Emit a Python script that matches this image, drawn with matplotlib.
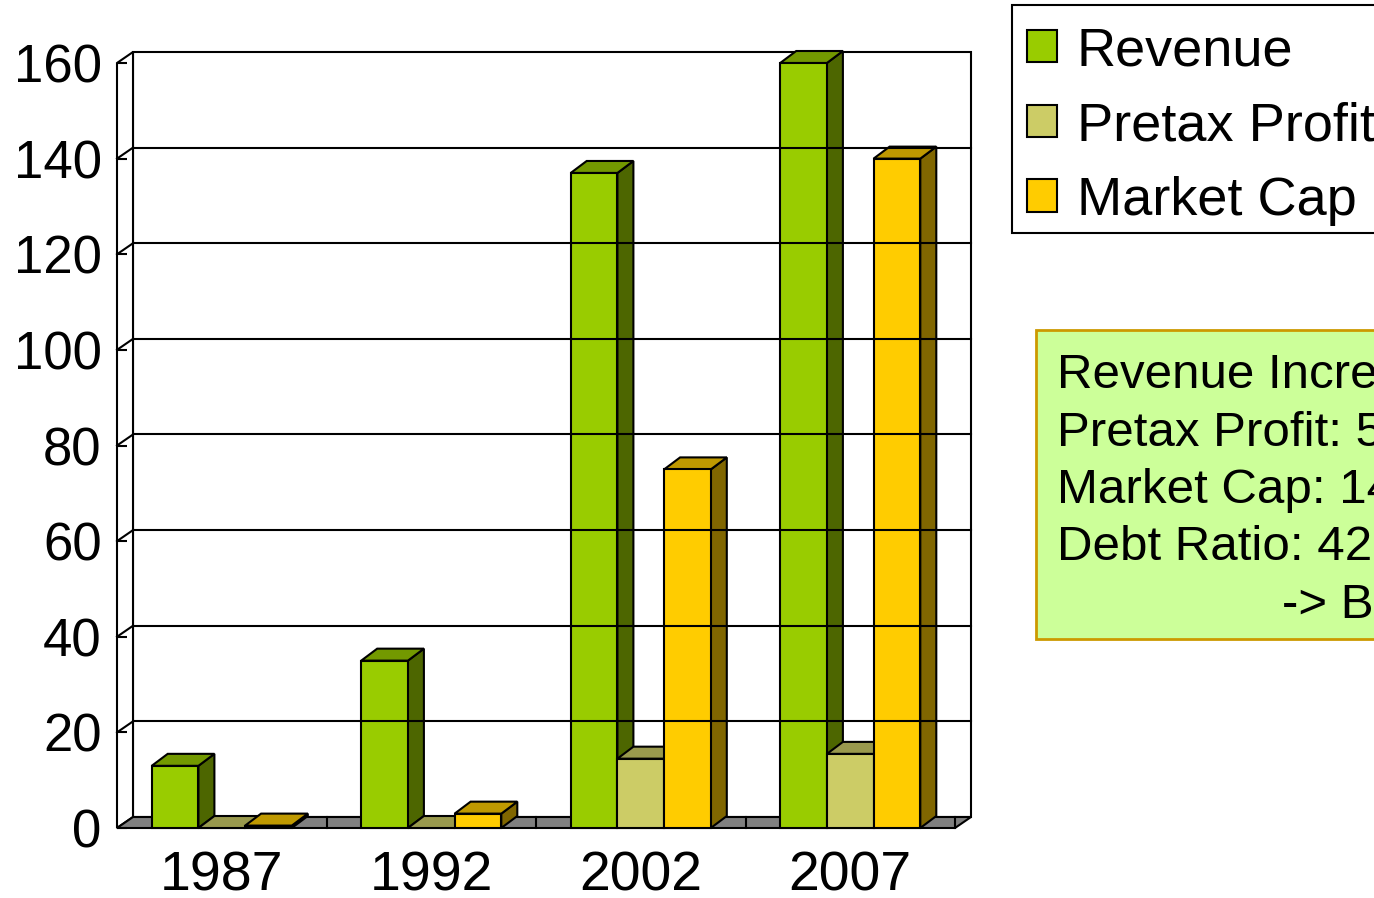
import matplotlib
matplotlib.use('Agg')
import matplotlib.pyplot as plt
from matplotlib.patches import Polygon, Rectangle, Patch

plt.rcParams['font.family'] = ['Liberation Sans', 'DejaVu Sans']

years = ['1987', '1992', '2002', '2007']
revenue = [13, 35, 137, 160]
pretax_profit = [0, 0, 14.5, 15.5]
market_cap = [0.5, 3, 75, 140]
series_names = ['Revenue', 'Pretax Profit', 'Market Cap']
yticks = list(range(0, 161, 20))

note_lines = ['Revenue Increase: 12x', 'Pretax Profit: 53x',
              'Market Cap: 140x', 'Debt Ratio: 422%']
note_last = '-> Boom'

# front / top / side colour of each series
colors = [('#99CC00', '#739900', '#4D6600'),
          ('#CCCC66', '#99994D', '#666633'),
          ('#FFCC00', '#BF9900', '#806600')]

W, H = 1374, 898
fig = plt.figure(figsize=(W / 100, H / 100), dpi=100)

# front plane of the 3d box in pixels, depth offset of the walls / bars
x0_px, x1_px = 117, 955
y0_px, ytop_px = 828, 63
ymax = 160
depth_x, depth_y_wall, depth_y_bar = 16, 11, 12
xs = (x1_px - x0_px) / len(years)
ys = (y0_px - ytop_px) / ymax
dxw, dyw = depth_x / xs, depth_y_wall / ys
dxb, dyb = depth_x / xs, depth_y_bar / ys
bw = 46.7 / xs

ax = fig.add_axes([x0_px / W, 1 - y0_px / H,
                   (x1_px + depth_x - x0_px) / W,
                   (y0_px - ytop_px + depth_y_wall) / H])
ax.set_xlim(-0.5, len(years) - 0.5 + dxw)
ax.set_ylim(0, ymax + dyw)
for s in ax.spines.values():
    s.set_visible(False)
ax.patch.set_visible(False)

lw = 1.5
xl, xr = -0.5, len(years) - 0.5

# back wall, side wall, floor
ax.add_patch(Rectangle((xl + dxw, dyw), xr - xl, ymax, facecolor='white',
                       edgecolor='black', lw=lw, clip_on=False))
ax.add_patch(Polygon([(xl, 0), (xl, ymax), (xl + dxw, ymax + dyw), (xl + dxw, dyw)],
                     facecolor='white', edgecolor='black', lw=lw, clip_on=False))
for v in yticks[1:-1]:
    ax.plot([xl + dxw, xr + dxw], [v + dyw, v + dyw], color='black', lw=lw, clip_on=False)
    ax.plot([xl, xl + dxw], [v, v + dyw], color='black', lw=lw, clip_on=False)
ax.add_patch(Polygon([(xl, 0), (xr, 0), (xr + dxw, dyw), (xl + dxw, dyw)],
                     facecolor='#808080', edgecolor='black', lw=lw, clip_on=False))
for i in range(len(years)):
    ax.plot([i + 0.5, i + 0.5], [0, dyw], color='black', lw=lw, clip_on=False)


def bar3d(x, h, cols):
    front, top, side = cols
    ax.add_patch(Polygon([(x + bw, 0), (x + bw, h), (x + bw + dxb, h + dyb), (x + bw + dxb, dyb)],
                         facecolor=side, edgecolor='black', lw=lw, clip_on=False))
    ax.add_patch(Polygon([(x, h), (x + bw, h), (x + bw + dxb, h + dyb), (x + dxb, h + dyb)],
                         facecolor=top, edgecolor='black', lw=lw, clip_on=False))
    if h > 0:
        ax.add_patch(Rectangle((x, 0), bw, h, facecolor=front, edgecolor='black',
                               lw=lw, clip_on=False))


series = [revenue, pretax_profit, market_cap]
for i in range(len(years)):
    for k, vals in enumerate(series):
        bar3d(i + (k - 1.5) * bw, vals[i], colors[k])

ax.set_yticks(yticks)
ax.set_xticks(range(len(years)))
ax.set_xticklabels(years)
ax.tick_params(axis='y', direction='in', length=7.5, width=lw, pad=11, labelsize=38)
ax.tick_params(axis='x', length=0, pad=16, labelsize=40)

# legend: frame drawn separately so the rows can sit like the original
fig.add_artist(Rectangle((1012 / W, 1 - 233 / H), 0.3, (233 - 5) / H,
                         transform=fig.transFigure, facecolor='white',
                         edgecolor='black', lw=lw))
handles = [Patch(facecolor=c[0], edgecolor='black', lw=lw) for c in colors]
fig.legend(handles, series_names, loc='upper left',
           bbox_to_anchor=(1012 / W, 1 - 11 / H), bbox_transform=fig.transFigure,
           fontsize=39, frameon=False, borderaxespad=0,
           borderpad=0.28, labelspacing=0.46, handlelength=0.555,
           handleheight=0.555, handletextpad=0.36)

# note box on the right
fig.add_artist(Rectangle((1036 / W, 1 - 639 / H), 0.3, (639 - 330) / H,
                         transform=fig.transFigure, facecolor='#CCFF99',
                         edgecolor='#CC9900', lw=2))
for j, line in enumerate(note_lines):
    fig.text(1057 / W, 1 - (388 + j * 57.5) / H, line, fontsize=35.5, va='baseline')
fig.text(1282 / W, 1 - (388 + 4 * 57.5) / H, note_last, fontsize=35.5, va='baseline')

fig.savefig('out.png', dpi=100)
